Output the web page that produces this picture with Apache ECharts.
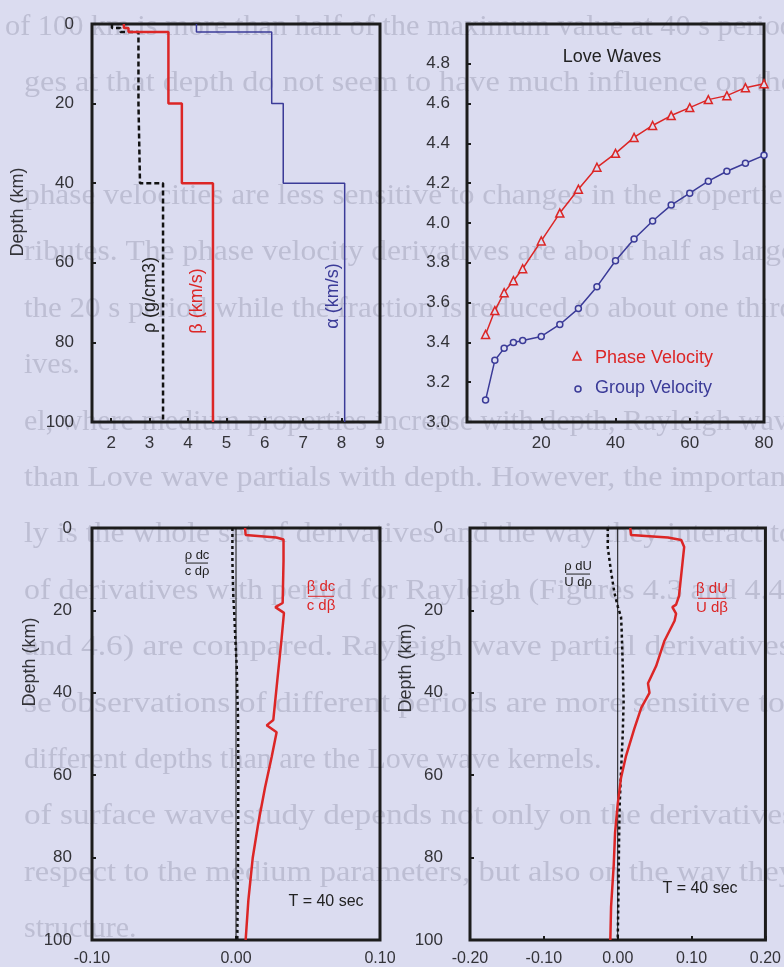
<!DOCTYPE html>
<html>
<head>
<meta charset="utf-8">
<script src="https://cdn.jsdelivr.net/npm/echarts@6/dist/echarts.min.js"></script>
<style>
html,body{margin:0;padding:0;background:#dbdcf0;}
#c{width:784px;height:967px;}
</style>
</head>
<body>
<div id="c"></div>
<script>
// ---------- data ----------
// Panel 1: model profile (layer boundaries in km, values per layer)
const depthBounds = [0, 1, 2, 20, 40, 100];
const rhoLayers   = [2.02, 2.24, 2.71, 2.75, 3.35];
const betaLayers  = [2.33, 2.45, 3.49, 3.84, 4.65];
const alphaLayers = [4.22, 4.22, 6.18, 6.48, 8.08];
const modelTicks  = [2, 3, 4, 5, 6, 7, 8, 9];

// Panel 2: Love wave dispersion
const periods = [5, 7.5, 10, 12.5, 15, 20, 25, 30, 35, 40, 45, 50, 55, 60, 65, 70, 75, 80];
const phaseVel = [3.44, 3.56, 3.65, 3.71, 3.77, 3.91, 4.05, 4.17, 4.28, 4.35, 4.43, 4.49, 4.54, 4.58, 4.62, 4.64, 4.68, 4.70];
const groupVel = [3.11, 3.31, 3.37, 3.40, 3.41, 3.43, 3.49, 3.57, 3.68, 3.81, 3.92, 4.01, 4.09, 4.15, 4.21, 4.26, 4.30, 4.34];

// Panel 3: phase velocity partials, T = 40 s
const pcBetaDepth = [0, 1.7, 2.3, 2.8, 8, 18.2, 19.2, 20.6, 26.7, 36.9, 46.6, 47.9, 49.6, 55.5, 63.1, 71.6, 80.1, 90.3, 100];
const pcBetaVal   = [0.0063, 0.0067, 0.028, 0.033, 0.033, 0.0324, 0.0273, 0.0333, 0.0317, 0.0287, 0.0259, 0.0213, 0.0282, 0.0248, 0.0201, 0.0155, 0.0116, 0.0086, 0.0067];
const pcRhoDepth  = [0, 8, 16.5, 20.8, 26.7, 33.5, 40, 46, 60, 80, 100];
const pcRhoVal    = [-0.0025, -0.0025, -0.0019, -0.0012, -0.0005, 0.0005, 0.0009, 0.0014, 0.0016, 0.0014, 0.0009];

// Panel 4: group velocity partials, T = 40 s
const guBetaDepth = [0, 1.7, 2.3, 2.9, 4.6, 8, 16.5, 18.6, 19.2, 20.8, 22.5, 27.5, 33.5, 37.7, 40, 43.6, 48.7, 55.5, 60.6, 67, 74, 81.8, 92, 100];
const guBetaVal   = [0.017, 0.018, 0.068, 0.086, 0.09, 0.088, 0.083, 0.079, 0.074, 0.079, 0.077, 0.063, 0.052, 0.041, 0.043, 0.032, 0.0225, 0.011, 0.0045, 0.0, -0.0036, -0.0054, -0.009, -0.01];
const guRhoDepth  = [0, 4.7, 10.6, 15.7, 19, 21.6, 25, 33.5, 42, 50, 59, 67, 76, 88.6, 100];
const guRhoVal    = [-0.0135, -0.0135, -0.009, -0.0045, 0, 0.0045, 0.0054, 0.0068, 0.008, 0.0068, 0.0045, 0.0027, 0.0018, 0.001, 0];

const zeroLine = [0, 100];

// Faint page text behind the figure (a scanned thesis page); '' = blank line
const pageLines = [
  'of 100 km is more than half of the maximum value at 40 s period',
  'ges at that depth do not seem to have much influence on the',
  '',
  'phase velocities are less sensitive to changes in the properties',
  'ributes. The phase velocity derivatives are about half as large',
  'the 20 s period while the fraction is reduced to about one third',
  'ives.',
  'el, where medium properties increase with depth, Rayleigh wave',
  'than Love wave partials with depth. However, the important',
  'ly is the whole set of derivatives and the way they interact to',
  'of derivatives with period for Rayleigh (Figures 4.3 and 4.4)',
  'and 4.6) are compared. Rayleigh wave partial derivatives',
  'se observations of different periods are more sensitive to',
  'different depths than are the Love wave kernels.',
  'of surface wave study depends not only on the derivatives',
  'respect to the medium parameters, but also on the way they',
  'structure.'
];
const pageLineEnds = [false, false, false, false, false, false, true, false, false, false, false, false, false, true, false, false, true];

// ---------- helpers ----------
function steps(vals) {
  const pts = [];
  vals.forEach((v, i) => { pts.push([v, depthBounds[i]], [v, depthBounds[i + 1]]); });
  return pts;
}
function zipXY(xs, ys) { return xs.map((x, i) => [x, ys[i]]); }
function zipVD(vals, depths) { return vals.map((v, i) => [v, depths[i]]); }

const FONT = 'Liberation Sans, Arial, sans-serif';
const SERIF = 'Liberation Serif, Times New Roman, serif';
const BG = '#dbdcf0';
const RED = '#dc2626';
const BLUE = '#3b3b98';
const INK = '#333338';
const BOX = '#1c1c1c';
const PAGE_INK = '#bdbed3';

const gridBase = { show: true, borderColor: BOX, borderWidth: 3, backgroundColor: 'transparent', containLabel: false };
const tickStyle = { show: true, inside: true, length: 4, lineStyle: { color: BOX, width: 2 } };
const labelBase = { color: INK, fontSize: 17, fontFamily: FONT };
const noLine = { show: false, onZero: false };

function xAx(grid, extra) {
  return Object.assign({
    type: 'value', gridIndex: grid, position: 'bottom',
    axisLine: noLine, splitLine: { show: false },
    axisTick: tickStyle
  }, extra);
}
function yDepth(grid, margin) {
  return {
    type: 'value', gridIndex: grid, inverse: true, min: 0, max: 100, interval: 20, position: 'left',
    axisLine: noLine, splitLine: { show: false }, axisTick: tickStyle,
    axisLabel: Object.assign({}, labelBase, { margin: margin })
  };
}

const chart = echarts.init(document.getElementById('c'), null, { renderer: 'canvas' });

const option = {
  animation: false,
  backgroundColor: BG,
  grid: [
    Object.assign({ left: 92, top: 24, width: 288, height: 398 }, gridBase),
    Object.assign({ left: 467, top: 24, width: 297, height: 398 }, gridBase),
    Object.assign({ left: 92, top: 528, width: 288, height: 412 }, gridBase),
    Object.assign({ left: 470, top: 528, width: 297, height: 412 }, gridBase)
  ],
  xAxis: [
    xAx(0, { min: 1.5, max: 9,
      axisTick: Object.assign({}, tickStyle, { customValues: modelTicks }),
      axisLabel: Object.assign({}, labelBase, { margin: 13, customValues: modelTicks }) }),
    xAx(1, { min: 0, max: 80, interval: 20,
      axisLabel: Object.assign({}, labelBase, { margin: 13, showMinLabel: false }) }),
    xAx(2, { min: -0.1, max: 0.1, interval: 0.1,
      axisLabel: Object.assign({}, labelBase, { fontSize: 16, margin: 11, formatter: v => v.toFixed(2) }) }),
    xAx(3, { min: -0.2, max: 0.2, interval: 0.1,
      axisLabel: Object.assign({}, labelBase, { fontSize: 16, margin: 11, formatter: v => v.toFixed(2) }) })
  ],
  yAxis: [
    yDepth(0, 18),
    { type: 'value', gridIndex: 1, min: 3, max: 5, interval: 0.2, position: 'left',
      axisLine: noLine, splitLine: { show: false }, axisTick: tickStyle,
      axisLabel: Object.assign({}, labelBase, { margin: 17, showMaxLabel: false, formatter: v => v.toFixed(1) }) },
    yDepth(2, 20),
    yDepth(3, 27)
  ],
  series: [
    // Panel 1
    { type: 'line', xAxisIndex: 0, yAxisIndex: 0, data: steps(rhoLayers), showSymbol: false,
      lineStyle: { color: '#111', width: 2.5, type: [5, 3] } },
    { type: 'line', xAxisIndex: 0, yAxisIndex: 0, data: steps(betaLayers), showSymbol: false,
      lineStyle: { color: RED, width: 2.5 } },
    { type: 'line', xAxisIndex: 0, yAxisIndex: 0, data: steps(alphaLayers), showSymbol: false,
      lineStyle: { color: BLUE, width: 1.5 } },
    // Panel 2
    { name: 'Phase Velocity', type: 'line', xAxisIndex: 1, yAxisIndex: 1, data: zipXY(periods, phaseVel),
      symbol: 'triangle', symbolSize: 8,
      lineStyle: { color: RED, width: 1.5 },
      itemStyle: { color: BG, borderColor: RED, borderWidth: 1.5 } },
    { name: 'Group Velocity', type: 'line', xAxisIndex: 1, yAxisIndex: 1, data: zipXY(periods, groupVel),
      symbol: 'circle', symbolSize: 6,
      lineStyle: { color: BLUE, width: 1.5 },
      itemStyle: { color: BG, borderColor: BLUE, borderWidth: 1.5 } },
    // Panel 3
    { type: 'line', xAxisIndex: 2, yAxisIndex: 2, data: zeroLine.map(d => [0, d]), showSymbol: false,
      lineStyle: { color: '#111', width: 1 } },
    { type: 'line', xAxisIndex: 2, yAxisIndex: 2, data: zipVD(pcRhoVal, pcRhoDepth), showSymbol: false,
      lineStyle: { color: '#111', width: 2.5, type: [3, 3] } },
    { type: 'line', xAxisIndex: 2, yAxisIndex: 2, data: zipVD(pcBetaVal, pcBetaDepth), showSymbol: false,
      lineStyle: { color: RED, width: 2.5 } },
    // Panel 4
    { type: 'line', xAxisIndex: 3, yAxisIndex: 3, data: zeroLine.map(d => [0, d]), showSymbol: false,
      lineStyle: { color: '#111', width: 1 } },
    { type: 'line', xAxisIndex: 3, yAxisIndex: 3, data: zipVD(guRhoVal, guRhoDepth), showSymbol: false,
      lineStyle: { color: '#111', width: 2.5, type: [3, 3] } },
    { type: 'line', xAxisIndex: 3, yAxisIndex: 3, data: zipVD(guBetaVal, guBetaDepth), showSymbol: false,
      lineStyle: { color: RED, width: 2.5 } }
  ],
  graphic: []
};

function txt(x, y, s, size, color, rot) {
  return { type: 'text', x: x, y: y, rotation: rot || 0, z: 10,
    style: { text: s, font: size + 'px ' + FONT, fill: color, align: 'center', verticalAlign: 'middle' } };
}
function frac(cx, yTop, num, den, size, color, w) {
  const gap = size * 0.62;
  return [
    txt(cx, yTop, num, size, color),
    { type: 'line', z: 10, shape: { x1: cx - w / 2, y1: yTop + gap, x2: cx + w / 2, y2: yTop + gap },
      style: { stroke: color, lineWidth: 1 } },
    txt(cx, yTop + 2 * gap, den, size, color)
  ];
}
const R = Math.PI / 2;

// justified page text: full lines gently stretched to run past the right edge
const measureCtx = document.createElement('canvas').getContext('2d');
const PAGE_FONT = '30px ' + SERIF;
measureCtx.font = PAGE_FONT;
const pageText = pageLines.map((s, i) => {
  const x0 = i === 0 ? 5 : 24;
  const w = measureCtx.measureText(s).width || 1;
  const sx = pageLineEnds[i] ? 1 : Math.min(1.12, Math.max(1, (795 - x0) / w));
  return {
    type: 'text', x: x0, y: 27 + i * 56.4, scaleX: sx, z: -5, silent: true,
    style: { text: s, font: PAGE_FONT, fill: PAGE_INK, align: 'left', verticalAlign: 'middle' }
  };
});

option.graphic = pageText.concat([
  txt(18, 212, 'Depth (km)', 18, INK, R),
  txt(30, 662, 'Depth (km)', 18, INK, R),
  txt(406, 668, 'Depth (km)', 18, INK, R),
  txt(150, 295, 'ρ (g/cm3)', 18, '#222', R),
  txt(197, 301, 'β (km/s)', 18, RED, R),
  txt(333, 296, 'α (km/s)', 18, BLUE, R),
  txt(612, 57, 'Love Waves', 18, '#222'),
  { type: 'polygon', z: 10, shape: { points: [[577, 352], [573, 360], [581, 360]] },
    style: { fill: 'none', stroke: RED, lineWidth: 1.5 } },
  { type: 'text', x: 595, y: 358, z: 10, style: { text: 'Phase Velocity', font: '18px ' + FONT, fill: RED, align: 'left', verticalAlign: 'middle' } },
  { type: 'circle', z: 10, shape: { cx: 578, cy: 389, r: 3 }, style: { fill: 'none', stroke: BLUE, lineWidth: 1.5 } },
  { type: 'text', x: 595, y: 388, z: 10, style: { text: 'Group Velocity', font: '18px ' + FONT, fill: BLUE, align: 'left', verticalAlign: 'middle' } },
  txt(326, 902, 'T = 40 sec', 16, '#222'),
  txt(700, 889, 'T = 40 sec', 16, '#222')
]).concat(
  frac(197, 555, 'ρ dc', 'c dρ', 13, '#222', 22),
  frac(321, 587, 'β dc', 'c dβ', 15, RED, 26),
  frac(578, 566, 'ρ dU', 'U dρ', 13, '#222', 24),
  frac(712, 589, 'β dU', 'U dβ', 15, RED, 28)
);

chart.setOption(option);
</script>
</body>
</html>
